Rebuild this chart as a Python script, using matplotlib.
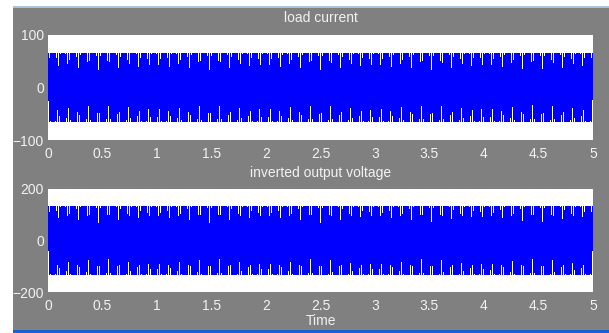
import numpy as np
import matplotlib.pyplot as plt
from matplotlib.patches import Rectangle

# scope settings
t_end = 5.0
fs = 20000.0           # sample rate of the logged signal (Hz)
f0 = 49.1              # fundamental as it shows on screen (Hz)
i_amp = 65.0           # load current peak (A)
v_amp = 133.0          # inverter voltage peak (V)
v_ripple = [(11, 5.0), (13, 4.0)]   # harmonic order, peak

x_ticks = [0, 0.5, 1, 1.5, 2, 2.5, 3, 3.5, 4, 4.5, 5]
x_ticklabels = ['0', '0.5', '1', '1.5', '2', '2.5', '3', '3.5', '4', '4.5', '5']
i_ticks = [-100, 0, 100]
v_ticks = [-200, 0, 200]

t = np.arange(0, t_end, 1 / fs)
i_load = i_amp * np.sin(2 * np.pi * f0 * t)
v_out = v_amp * np.sin(2 * np.pi * f0 * t)
for h, a in v_ripple:
    v_out = v_out + a * np.sin(2 * np.pi * h * f0 * t)

plt.rcParams['path.simplify'] = False
W, H = 609, 333
fig = plt.figure(figsize=(W / 100, H / 100), dpi=100, facecolor='white')
plt.rcParams['font.family'] = ['Liberation Sans Narrow', 'Liberation Sans', 'DejaVu Sans']

def px(x0, y0, x1, y1):
    return [x0 / W, 1 - y1 / H, (x1 - x0) / W, (y1 - y0) / H]

# window chrome
for (x0, y0, x1, y1), c in [((13, 8, W, H), '#808080'),
                            ((13, 5.5, W, 8), '#a9c3dc'),
                            ((13, 330, W, H), '#1862d0')]:
    fig.add_artist(Rectangle((x0 / W, 1 - y1 / H), (x1 - x0) / W, (y1 - y0) / H,
                             transform=fig.transFigure, facecolor=c,
                             edgecolor='none', zorder=-10))

txt = '#f2f2f2'
panels = [
    (px(48, 35, 593, 140), i_load, i_ticks, 'load current', (-100, 100)),
    (px(48, 189, 593, 292), v_out, v_ticks, 'inverted output voltage', (-200, 200)),
]
axes = []
for rect, y, yt, title, ylim in panels:
    ax = fig.add_axes(rect)
    ax.set_facecolor('white')
    # thin un-smoothed trace so the screen aliasing shows like on the scope
    ax.plot(t, y, color='#0000ff', lw=0.35, antialiased=False)
    ax.set_xlim(0, t_end)
    ax.set_ylim(*ylim)
    ax.set_xticks(x_ticks)
    ax.set_xticklabels(x_ticklabels)
    ax.set_yticks(yt)
    ax.tick_params(length=0, colors=txt, labelsize=10)
    ax.tick_params(axis='x', pad=5)
    ax.tick_params(axis='y', pad=3)
    for s in ax.spines.values():
        s.set_visible(False)
    ax.set_title(title, color=txt, fontsize=10, pad=9)
    axes.append(ax)

axes[1].set_xlabel('Time', color=txt, fontsize=10, labelpad=1)

fig.savefig('out.png', dpi=100, facecolor='white')
